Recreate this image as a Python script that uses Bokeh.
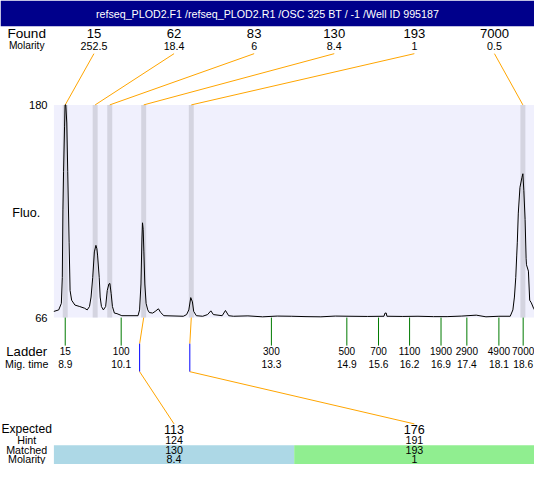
from bokeh.plotting import figure
from bokeh.models import Range1d
from bokeh.core.properties import value
from bokeh.embed import file_html
from bokeh.resources import INLINE

# ---------------- data ----------------
TITLE = "refseq_PLOD2.F1 /refseq_PLOD2.R1 /OSC 325 BT / -1 /Well ID 995187"

FOUND = ["15", "62", "83", "130", "193", "7000"]
FOUND_MOLARITY = ["252.5", "18.4", "6", "8.4", "1", "0.5"]
PEAK_TIMES = [8.90, 9.534, 9.843, 10.562, 11.570, 18.594]

LADDER_SIZES = ["15", "100", "300", "500", "700", "1100", "1900", "2900", "4900", "7000"]
LADDER_TIME_LABELS = ["8.9", "10.1", "13.3", "14.9", "15.6", "16.2", "16.9", "17.4", "18.1", "18.6"]
LADDER_TIMES = [8.90, 10.085, 13.267, 14.865, 15.536, 16.194, 16.860, 17.407, 18.086, 18.600]

EXPECTED = ["113", "176"]
HINT = ["124", "191"]
MATCHED = ["130", "193"]
MATCHED_MOLARITY = ["8.4", "1"]
MATCHED_PEAK_TIMES = [10.562, 11.570]
EXPECTED_MARK_TIMES = [10.476, 11.539]
MATCH_COLORS = ["#ADD8E6", "#90EE90"]

T_MIN, T_MAX = 8.66, 18.84
F_MIN, F_MAX = 66, 180
Y_TICKS = [66, 180]

TRACE = [
    (8.659, 69.3), (8.762, 70.1), (8.818, 73.6), (8.838, 87.4), (8.851, 123.7),
    (8.865, 144.4), (8.886, 168.6), (8.897, 180.0), (8.912, 180.0), (8.933, 170.3),
    (8.953, 144.4), (8.982, 106.4), (9.003, 80.5), (9.036, 75.3), (9.105, 72.7),
    (9.208, 71.9), (9.311, 71.0), (9.365, 70.1), (9.414, 71.9), (9.447, 77.0),
    (9.482, 87.4), (9.517, 101.2), (9.550, 104.7), (9.570, 102.9), (9.585, 99.5),
    (9.620, 87.4), (9.640, 77.0), (9.667, 71.9), (9.708, 70.1), (9.756, 71.9),
    (9.790, 80.5), (9.825, 84.0), (9.846, 84.3), (9.873, 78.8), (9.900, 71.9),
    (9.941, 68.4), (9.996, 68.1), (10.099, 67.0), (10.442, 67.0), (10.475, 70.1),
    (10.504, 84.0), (10.525, 108.1), (10.537, 116.8), (10.551, 113.3), (10.566, 101.2),
    (10.586, 84.0), (10.613, 73.6), (10.648, 70.1), (10.681, 68.7), (10.751, 68.4),
    (10.805, 69.3), (10.874, 70.7), (10.922, 68.7), (10.990, 67.0), (11.401, 66.7),
    (11.471, 67.6), (11.518, 70.1), (11.559, 76.7), (11.594, 74.4), (11.621, 69.3),
    (11.677, 67.0), (11.812, 66.7), (11.915, 67.6), (11.985, 69.6), (12.038, 67.6),
    (12.224, 67.0), (12.294, 69.8), (12.362, 67.0), (12.464, 66.7), (12.770, 66.9),
    (13.081, 66.4), (13.390, 66.8), (13.698, 66.7), (14.000, 66.5), (14.315, 66.4),
    (14.620, 66.8), (14.932, 66.7), (15.300, 66.6), (15.652, 66.7), (15.673, 68.4),
    (15.700, 68.4), (15.714, 66.7), (16.050, 66.6), (16.372, 66.7), (16.700, 66.5),
    (16.989, 66.5), (17.300, 66.8), (17.606, 67.3), (17.812, 66.4), (18.086, 66.7),
    (18.326, 66.7), (18.382, 70.1), (18.415, 77.0), (18.443, 87.4), (18.464, 99.5),
    (18.476, 106.4), (18.497, 122.0), (18.532, 135.8), (18.573, 141.0), (18.594, 143.1),
    (18.614, 134.0), (18.641, 118.5), (18.662, 97.8), (18.670, 94.3), (18.711, 90.9),
    (18.738, 75.3), (18.773, 73.9), (18.820, 71.0), (18.840, 70.1),
]
TRACE_T = [t for t, f in TRACE]
TRACE_F = [f for t, f in TRACE]

# ---------------- layout (reference pixel grid 550 x 480) ----------------
REF_W, REF_H = 550, 480
W, H = 534, 464
S = W / REF_W
FR_L, FR_R, FR_T, FR_B = 55, 550, 108, 328
FONT = value("Liberation Sans")


def tx(px):
    return T_MIN + (px - FR_L) * (T_MAX - T_MIN) / (FR_R - FR_L)


def fy(py):
    return F_MAX - (py - FR_T) * (F_MAX - F_MIN) / (FR_B - FR_T)


def fs(sz):
    return value(f"{sz * S:.1f}px")


p = figure(width=W, height=H, x_range=Range1d(tx(0), tx(REF_W)),
           y_range=Range1d(fy(REF_H), fy(0)), output_backend="svg",
           toolbar_location=None, min_border=0, background_fill_color="white",
           border_fill_color="white")
p.axis.visible = False
p.grid.visible = False
p.outline_line_color = None

LABEL_X = tx(27)


def txt(xs, ys, texts, size, color="black", align="center", baseline="middle"):
    p.text(x=xs, y=ys, text=texts, text_font=FONT, text_font_size=fs(size),
           text_color=color, text_align=align, text_baseline=baseline)


# header bar
p.quad(left=[tx(0)], right=[tx(REF_W)], top=[fy(0)], bottom=[fy(26.7)],
       fill_color="#00008B", line_color=None)
txt([tx(REF_W / 2)], [fy(13.5)], [TITLE], 11, color="white")

# found / molarity row
ncol = len(FOUND)
col_w = (FR_R - FR_L) / ncol
col_cx = [tx(FR_L + (i + 0.5) * col_w) for i in range(ncol)]
txt([LABEL_X], [fy(34.5)], ["Found"], 14)
txt([LABEL_X], [fy(47)], ["Molarity"], 10.5)
txt(col_cx, [fy(34.5)] * ncol, FOUND, 13.5)
txt(col_cx, [fy(47)] * ncol, FOUND_MOLARITY, 11)

# plot area
p.quad(left=[T_MIN], right=[T_MAX], bottom=[F_MIN], top=[F_MAX],
       fill_color="#F0F0FD", line_color=None)
bw = 0.105
p.quad(left=[t - bw / 2 for t in PEAK_TIMES], right=[t + bw / 2 for t in PEAK_TIMES],
       bottom=[F_MIN] * ncol, top=[F_MAX] * ncol, fill_color="#D4D4E0", line_color=None)

# orange connectors from found labels to peaks
p.segment(x0=col_cx, y0=[fy(55)] * ncol, x1=PEAK_TIMES, y1=[F_MAX] * ncol,
          line_color="#FFA500", line_width=1)

# trace
p.line(TRACE_T, TRACE_F, line_color="black", line_width=1)

# y labels
txt([tx(48.5)] * 2, Y_TICKS, [str(v) for v in Y_TICKS], 11.5, align="right")
txt([tx(26.5)], [fy(220)], ["Fluo."], 13)

# ladder
nl = len(LADDER_TIMES)
p.segment(x0=LADDER_TIMES, y0=[F_MIN] * nl, x1=LADDER_TIMES, y1=[fy(357)] * nl,
          line_color="#007A00", line_width=1)
txt([LABEL_X], [fy(363)], ["Ladder"], 13.5)
txt([LABEL_X], [fy(376)], ["Mig. time"], 11)
txt(LADDER_TIMES, [fy(363)] * nl, LADDER_SIZES, 10.3)
txt(LADDER_TIMES, [fy(376)] * nl, LADDER_TIME_LABELS, 10.5)

# expected / matched table
nm = len(EXPECTED)
cell_w = (FR_R - FR_L) / nm
cell_cx = [tx(FR_L + (j + 0.5) * cell_w) for j in range(nm)]
p.quad(left=[tx(FR_L + j * cell_w) for j in range(nm)],
       right=[tx(FR_L + (j + 1) * cell_w) for j in range(nm)],
       top=[fy(460)] * nm, bottom=[fy(REF_H)] * nm,
       fill_color=MATCH_COLORS, line_color=None)

p.segment(x0=MATCHED_PEAK_TIMES, y0=[F_MIN] * nm, x1=EXPECTED_MARK_TIMES, y1=[fy(355)] * nm,
          line_color="#FFA500", line_width=1)
p.segment(x0=EXPECTED_MARK_TIMES, y0=[fy(355)] * nm, x1=EXPECTED_MARK_TIMES, y1=[fy(384)] * nm,
          line_color="#0000FF", line_width=1)
p.segment(x0=EXPECTED_MARK_TIMES, y0=[fy(384)] * nm, x1=cell_cx, y1=[fy(438)] * nm,
          line_color="#FFA500", line_width=1)

txt([LABEL_X], [fy(443.5)], ["Expected"], 12.5)
txt([LABEL_X], [fy(455)], ["Hint"], 11)
txt([LABEL_X], [fy(465)], ["Matched"], 11)
txt([LABEL_X], [fy(474.5)], ["Molarity"], 11)
txt(cell_cx, [fy(443.5)] * nm, EXPECTED, 13)
txt(cell_cx, [fy(455)] * nm, HINT, 11)
txt(cell_cx, [fy(465)] * nm, MATCHED, 11)
txt(cell_cx, [fy(474.5)] * nm, MATCHED_MOLARITY, 11)

open("out.html", "w").write(file_html(p, INLINE))
